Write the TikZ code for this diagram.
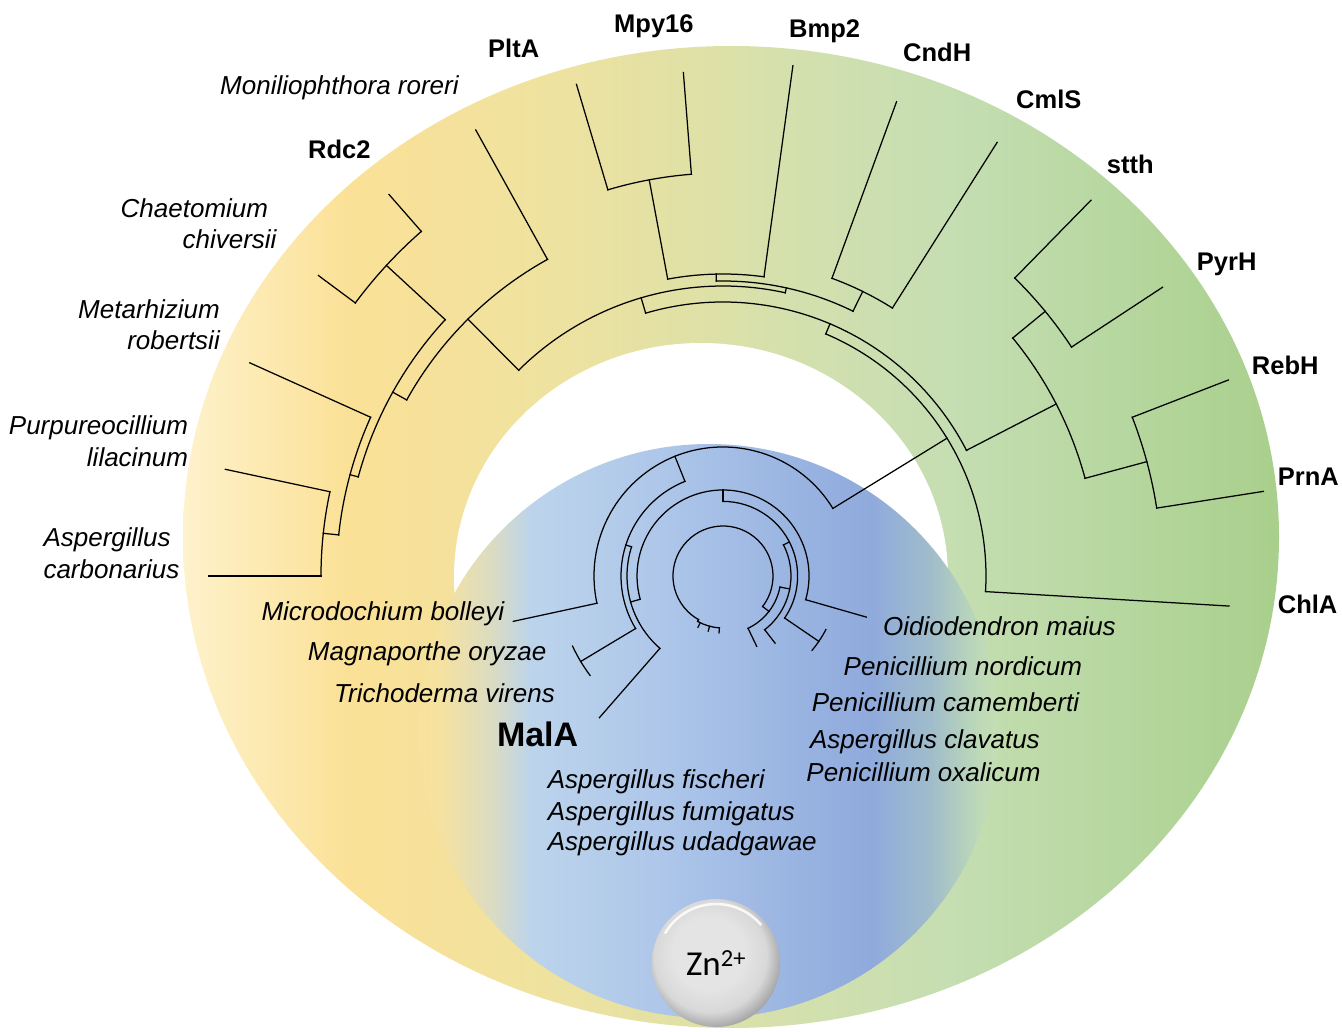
\documentclass[tikz,border=0pt]{standalone}
\usepackage{fontspec}
\setmainfont{Liberation Sans}
\newfontfamily\znfont{Carlito}
\usetikzlibrary{calc}
\definecolor{r0}{HTML}{FEF2CC}
\definecolor{r1}{HTML}{FDEBB5}
\definecolor{r2}{HTML}{FBE197}
\definecolor{r3}{HTML}{EEE2A0}
\definecolor{r4}{HTML}{DFE1A6}
\definecolor{r5}{HTML}{D3E0AE}
\definecolor{r6}{HTML}{C5DEB2}
\definecolor{r7}{HTML}{B8D8A2}
\definecolor{r8}{HTML}{A9CF8C}
\definecolor{b0}{HTML}{F9E29A}
\definecolor{b1}{HTML}{F4E1A2}
\definecolor{b2}{HTML}{DCDCC0}
\definecolor{b3}{HTML}{BCD4EB}
\definecolor{b4}{HTML}{AFC8EA}
\definecolor{b5}{HTML}{9FB9E4}
\definecolor{b6}{HTML}{8FAADC}
\definecolor{b7}{HTML}{A0BCCB}
\definecolor{b8}{HTML}{BCD8B8}
\definecolor{b9}{HTML}{C5DFB3}
\definecolor{zA}{HTML}{E4E4E4}
\definecolor{zB}{HTML}{D8D8D8}
\definecolor{zC}{HTML}{ABABAB}
\definecolor{zD}{HTML}{7C7C7C}
\pgfdeclarehorizontalshading{ringshade}{100bp}{color(0bp)=(r0); color(25bp)=(r0); color(28.1bp)=(r1); color(32.6bp)=(r2); color(42.2bp)=(r3); color(48.6bp)=(r4); color(53.1bp)=(r5); color(60bp)=(r6); color(66.8bp)=(r7); color(75bp)=(r8); color(100bp)=(r8)}
\pgfdeclarehorizontalshading{blueshade}{100bp}{color(0bp)=(b0); color(25bp)=(b0); color(27.2bp)=(b1); color(31.1bp)=(b2); color(34.6bp)=(b3); color(44.9bp)=(b4); color(54.4bp)=(b5); color(63.9bp)=(b6); color(69.1bp)=(b7); color(73bp)=(b8); color(75bp)=(b9); color(100bp)=(b9)}
\pgfdeclareradialshading{znball}{\pgfpoint{-4bp}{5bp}}{color(0bp)=(zA); color(14bp)=(zA); color(22bp)=(zB); color(27bp)=(zC); color(31bp)=(zD); color(50bp)=(zD)}
\newcommand\PhArc[3]{\draw[tl] ($(C)+(#1:#3)$) arc[start angle=#1, end angle=#2, radius=#3];}
\newcommand\PhRad[3]{\draw[tl] ($(C)+(#1:#2)$) -- ($(C)+(#1:#3)$);}
\begin{document}
\begin{tikzpicture}[x=1pt,y=1pt,
  tl/.style={line width=1.25pt, line cap=rect, black},
  sp/.style={font=\fontsize{26}{30}\selectfont\itshape, inner sep=0pt},
  en/.style={font=\fontsize{25.5}{30}\selectfont\bfseries, inner sep=0pt}]
\useasboundingbox (0,0) rectangle (1342,-1032);
\fill[white] (0,0) rectangle (1342,-1032);
% backgrounds
\shade[shading=ringshade] (731,-537) ellipse [x radius=548, y radius=491];
\fill[white] (701,-577) ellipse [x radius=247, y radius=234];
\shade[shading=blueshade] (709,-731) ellipse [x radius=290, y radius=287];
\coordinate (C) at (723,-576);
% ---------- outer tree ----------
\PhRad{31.6}{129}{263}
\PhArc{-3.4}{67}{263}
\PhRad{-3.4}{263}{507}
\PhRad{67}{263}{274}
\PhArc{27.3}{106.4}{274}
\PhRad{27.3}{274}{375}
\PhArc{15.1}{39.4}{375}
\PhRad{39.4}{375}{417}
\PhArc{33.3}{45.6}{417}
\PhRad{45.6}{417}{526}
\PhRad{33.3}{417}{526}
\PhRad{15.1}{375}{439}
\PhArc{8.9}{21.2}{439}
\PhRad{21.2}{439}{542}
\PhRad{8.9}{439}{547}
\PhRad{106.4}{274}{290}
\PhArc{77.6}{134.8}{290}
\PhRad{77.6}{290}{295}
\PhArc{63.85}{91.3}{295}
\PhRad{91.3}{295}{302}
\PhArc{82.2}{100.55}{302}
\PhRad{82.2}{302}{515}
\PhRad{100.55}{302}{403}
\PhArc{94.5}{106.6}{403}
\PhRad{106.6}{403}{513}
\PhRad{94.5}{403}{505}
\PhRad{63.85}{295}{317}
\PhArc{57.7}{69.9}{317}
\PhRad{69.9}{317}{505}
\PhRad{57.7}{317}{513}
\PhRad{134.8}{290}{362}
\PhArc{119}{150.9}{362}
\PhRad{119}{362}{510}
\PhRad{150.9}{362}{378}
\PhArc{137.3}{164.8}{378}
\PhRad{137.3}{378}{458}
\PhArc{131.2}{143.4}{458}
\PhRad{131.2}{458}{507}
\PhRad{143.4}{458}{504}
\PhRad{164.8}{378}{386.5}
\PhArc{155.75}{173.9}{386.5}
\PhRad{155.75}{386.5}{519}
\PhRad{173.9}{386.5}{402}
\PhArc{167.9}{180}{402}
\PhRad{167.9}{402}{509}
\PhRad{180}{402}{514}
% ---------- inner (MalA) tree ----------
\PhArc{-37.6}{240.7}{50}
\PhRad{-37.6}{50}{58}
\PhArc{295.6}{349}{58}
\PhRad{295.6}{58}{78}
\PhRad{349}{58}{68}
\PhArc{-52.2}{27.2}{68}
\PhRad{-52.2}{68}{85}
\PhRad{27.2}{68}{74.6}
\PhArc{-34.3}{90}{74.6}
\PhRad{-34.3}{74.6}{116}
\PhArc{-39.8}{-27.5}{116}
\PhRad{90}{74.6}{86}
\PhArc{-16}{195.7}{86}
\PhRad{-16}{86}{149}
\PhRad{195.7}{86}{96}
\PhArc{162.3}{228.9}{96}
\PhRad{228.9}{96}{188}
\PhRad{162.3}{96}{102}
\PhArc{111.9}{211}{102}
\PhRad{211}{102}{166}
\PhArc{205}{216.8}{166}
\PhRad{111.9}{102}{129}
\PhArc{31.6}{192.2}{129}
\PhRad{192.2}{129}{214.6}
\PhRad{240.7}{50}{52}
\PhArc{241}{266}{52}
\PhRad{244}{52}{57}
\PhRad{255}{52}{57}
\PhRad{266}{52}{57}
% ---------- Zn ball ----------
\shade[shading=znball] (716,-963) circle[radius=64];
\draw[white, line width=2.5pt, opacity=0.85] ($(716,-963)+(150:59)$) arc[start angle=150, end angle=40, radius=59];
\node[font=\znfont\fontsize{35}{40}\selectfont, inner sep=0pt] (zn) at (716,-963) {Zn\textsuperscript{2+}};
% ---------- outer labels ----------
\node[sp, anchor=base west] (monil) at (220,-95) {Moniliophthora roreri};
\node[en, anchor=base west] (rdc) at (308,-158.3) {Rdc2};
\node[en, anchor=base west] (plta) at (488,-57.3) {PltA};
\node[en, anchor=base west] (mpy) at (614,-33) {Mpy16};
\node[en, anchor=base west] (bmp) at (789,-38) {Bmp2};
\node[en, anchor=base west] (cndh) at (903,-61.7) {CndH};
\node[en, anchor=base west] (cmls) at (1016,-108.3) {CmlS};
\node[en, anchor=base west] (stth) at (1106.7,-173.3) {stth};
\node[en, anchor=base west] (pyrh) at (1196.7,-270.7) {PyrH};
\node[en, anchor=base west] (rebh) at (1251.7,-375) {RebH};
\node[en, anchor=base west] (prna) at (1277.7,-485) {PrnA};
\node[en, anchor=base west] (chla) at (1277.7,-613.3) {ChlA};
\node[sp, anchor=base east] (chae) at (268.3,-217.3) {Chaetomium};
\node[sp, anchor=base east] (chiv) at (276.7,-248.3) {chiversii};
\node[sp, anchor=base east] (meta) at (220,-318.3) {Metarhizium};
\node[sp, anchor=base east] (robe) at (220,-350) {robertsii};
\node[sp, anchor=base east] (purp) at (188.3,-435) {Purpureocillium};
\node[sp, anchor=base east] (lila) at (188.3,-466.7) {lilacinum};
\node[sp, anchor=base west] (aspe) at (43.3,-546.7) {Aspergillus};
\node[sp, anchor=base west] (carb) at (43.3,-578.3) {carbonarius};
% ---------- inner labels ----------
\node[sp, anchor=base east] (micr) at (504.5,-620.7) {Microdochium bolleyi};
\node[sp, anchor=base east] (magn) at (546.6,-660) {Magnaporthe oryzae};
\node[sp, anchor=base east] (tric) at (555,-702.7) {Trichoderma virens};
\node[font=\fontsize{34}{40}\selectfont\bfseries, inner sep=0pt, anchor=base west] (mala) at (496.8,-746.7) {MalA};
\node[sp, anchor=base west] (afis) at (547.7,-788.3) {Aspergillus fischeri};
\node[sp, anchor=base west] (afum) at (547.7,-820) {Aspergillus fumigatus};
\node[sp, anchor=base west] (auda) at (547.7,-850.7) {Aspergillus udadgawae};
\node[sp, anchor=base east] (oidi) at (1116,-635) {Oidiodendron maius};
\node[sp, anchor=base east] (pnor) at (1082.3,-675) {Penicillium nordicum};
\node[sp, anchor=base east] (pcam) at (1079.3,-711.7) {Penicillium camemberti};
\node[sp, anchor=base east] (acla) at (1040,-748.3) {Aspergillus clavatus};
\node[sp, anchor=base east] (poxa) at (1040.7,-781.7) {Penicillium oxalicum};
\end{tikzpicture}
\end{document}
